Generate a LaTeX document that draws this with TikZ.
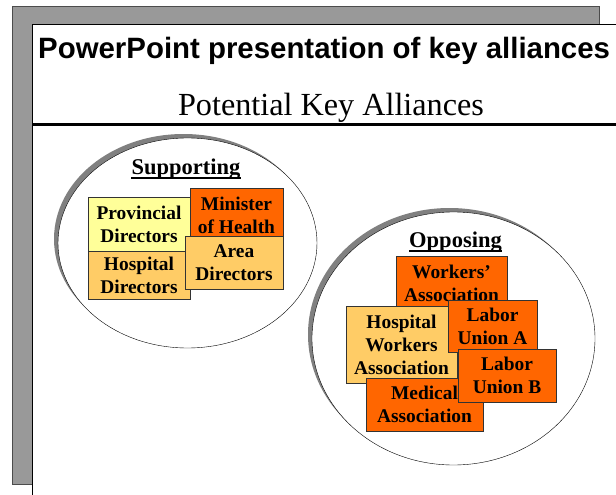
\documentclass[tikz,border=0pt]{standalone}
\usepackage{fontspec}
\setmainfont{Liberation Serif}
\newfontfamily\sansbold{Liberation Sans}
\definecolor{paleyel}{HTML}{FFFF99}
\definecolor{lightorg}{HTML}{FFCC66}
\definecolor{deeporg}{HTML}{FF6600}
\definecolor{framegray}{HTML}{999999}
\begin{document}
\begin{tikzpicture}[x=1pt,y=-1pt]
\clip (0,0) rectangle (616,495);
% slide frame
\filldraw[fill=framegray,draw=black!70] (12,6) rectangle (599,484);
\filldraw[fill=white,draw=black] (32,24) rectangle (630,510);
\draw[line width=3pt] (32,124) -- (630,124);
\node[anchor=base west,inner sep=0pt,font=\sansbold\bfseries\fontsize{29.4pt}{35pt}\selectfont] (title) at (38,59) {PowerPoint presentation of key alliances};
\node[anchor=base,inner sep=0pt,font=\fontsize{32.2pt}{38pt}\selectfont] (subtitle) at (331,115) {Potential Key Alliances};
% the two camps
\fill[black!50] (183.5,239) ellipse [x radius=129.5pt,y radius=105pt];
\filldraw[fill=white,draw=black] (187.5,243) ellipse [x radius=129.5pt,y radius=105pt];
\fill[black!50] (449.5,334.5) ellipse [x radius=141.5pt,y radius=126.5pt];
\filldraw[fill=white,draw=black] (453.5,338.5) ellipse [x radius=141.5pt,y radius=126.5pt];
\tikzstyle{camp}=[anchor=base,inner sep=0pt,font=\bfseries\fontsize{22.5pt}{27pt}\selectfont]
\node[camp] (sup) at (186,174) {Supporting};
\node[camp] (opp) at (455.5,247) {Opposing};
\draw[line width=1.3pt] ([yshift=-4pt]sup.base west) -- ([yshift=-4pt]sup.base east)
([yshift=-4pt]opp.base west) -- ([yshift=-4pt]opp.base east);
\tikzstyle{member}=[draw=black!80,line width=0.8pt,inner sep=0pt,align=center,font=\bfseries\fontsize{19.4pt}{23pt}\selectfont]
% supporting
\node[member,fill=paleyel,minimum width=102pt,minimum height=54pt] (prov) at (139,224) {Provincial\\Directors};
\node[member,fill=lightorg,minimum width=102pt,minimum height=48pt] (hosp) at (139,275) {Hospital\\Directors};
\node[member,fill=deeporg,minimum width=93pt,minimum height=54pt] (mini) at (236.5,215) {Minister\\of Health};
\node[member,fill=lightorg,minimum width=98pt,minimum height=53pt] (area) at (234,262.5) {Area\\Directors};
% opposing
\node[member,fill=deeporg,minimum width=111pt,minimum height=54pt] (work) at (451.5,283) {Workers’\\Association};
\node[member,fill=lightorg,minimum width=111pt,minimum height=77pt] (hw) at (401.5,344.5) {Hospital\\Workers\\Association};
\node[member,fill=deeporg,minimum width=89pt,minimum height=52pt] (laba) at (492.5,326) {Labor\\Union A};
\node[member,fill=deeporg,minimum width=117pt,minimum height=53pt] (med) at (424.5,404.5) {Medical\\Association};
\node[member,fill=deeporg,minimum width=98pt,minimum height=53pt] (labb) at (507,375.5) {Labor\\Union B};
\end{tikzpicture}
\end{document}
